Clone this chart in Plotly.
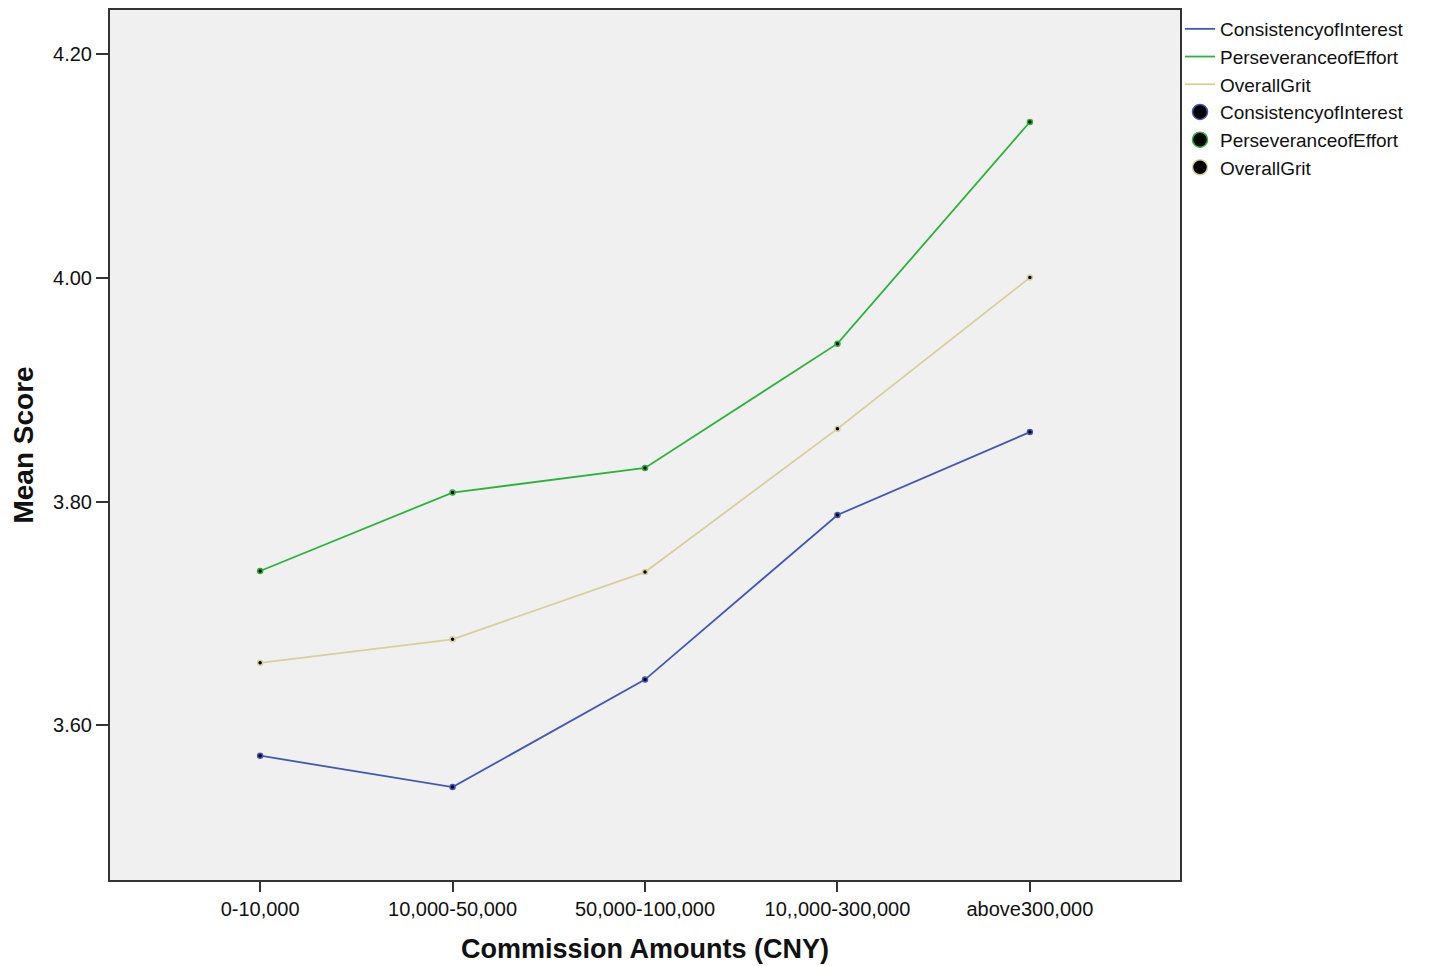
import plotly.graph_objects as go

categories = ["0-10,000", "10,000-50,000", "50,000-100,000", "10,,000-300,000", "above300,000"]
consistency = [3.573, 3.545, 3.641, 3.788, 3.862]
perseverance = [3.738, 3.808, 3.830, 3.941, 4.139]
overall = [3.656, 3.677, 3.737, 3.865, 4.000]
y_ticks = [3.60, 3.80, 4.00, 4.20]

series = [
    ("ConsistencyofInterest", consistency, "#4457b8"),
    ("PerseveranceofEffort", perseverance, "#2cb33c"),
    ("OverallGrit", overall, "#d8d09c"),
]

x_idx = list(range(len(categories)))

fig = go.Figure()
for name, vals, col in series:
    fig.add_trace(go.Scatter(x=x_idx, y=vals, mode="lines", name=name,
                             line=dict(color=col, width=1.8)))
for name, vals, col in series:
    fig.add_trace(go.Scatter(x=x_idx, y=vals, mode="markers", name=name,
                             showlegend=False,
                             marker=dict(color="black", size=5,
                                         line=dict(color=col, width=1.5))))
# legend-only entries for the marker symbols
for name, vals, col in series:
    fig.add_trace(go.Scatter(x=[None], y=[None], mode="markers", name=name,
                             marker=dict(color="black", size=15,
                                         line=dict(color=col, width=1.5))))

fig.update_layout(
    width=1438, height=958,
    margin=dict(l=102, r=266, t=0, b=86),
    paper_bgcolor="white", plot_bgcolor="#f0f0f0",
    font=dict(family="Liberation Sans, Arial", size=20, color="#111"),
    legend=dict(x=1.0, y=1.0, xanchor="left", yanchor="top",
                font=dict(size=19),
                bgcolor="rgba(0,0,0,0)", tracegroupgap=0, itemwidth=30),
    showlegend=True,
)
fig.update_xaxes(
    tickmode="array", tickvals=x_idx, ticktext=categories,
    range=[-0.78, 4.78], showgrid=False, zeroline=False,
    showline=True, linecolor="#333", linewidth=2, mirror=True,
    ticks="outside", ticklen=10, tickcolor="#333", tickwidth=2,
    title=dict(text="<b>Commission Amounts (CNY)</b>", font=dict(size=27), standoff=20),
)
fig.update_yaxes(
    tickmode="array", tickvals=y_ticks, ticktext=[f"{v:.2f}" for v in y_ticks],
    range=[3.462, 4.239], showgrid=False, zeroline=False,
    showline=True, linecolor="#333", linewidth=2, mirror=True,
    ticks="outside", ticklen=12, tickcolor="#333", tickwidth=2,
    title=dict(text="<b>Mean Score</b>", font=dict(size=28), standoff=14),
)

fig.write_html("out.html")
